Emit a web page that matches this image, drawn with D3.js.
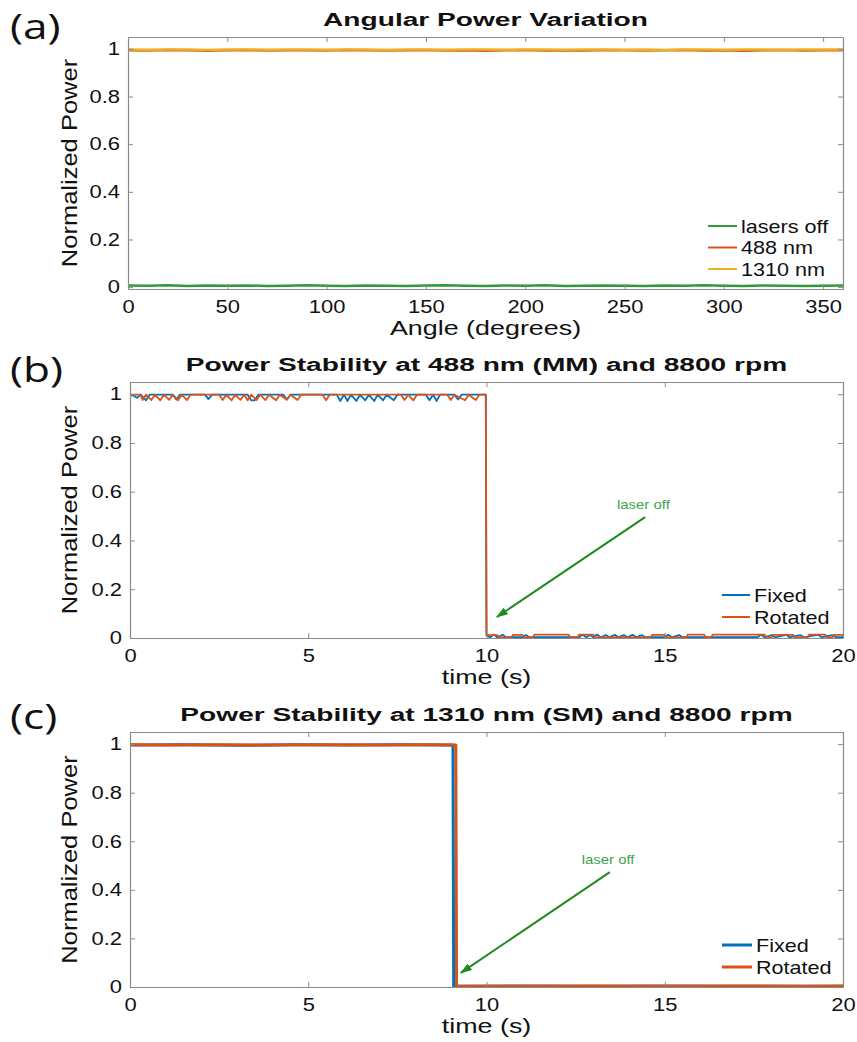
<!DOCTYPE html>
<html>
<head>
<meta charset="utf-8">
<script src="https://cdn.jsdelivr.net/npm/d3@7"></script>
<style>
  html, body { margin: 0; padding: 0; background: #fff; }
  svg { display: block; }
</style>
</head>
<body>
<div id="chart"></div>
<script>
// ---- data ----
// (a) angular sweep, one sample every 10 degrees
const anglesA = d3.range(0, 361, 10);
const lasersOff = [0.007,0.006,0.008,0.005,0.007,0.006,0.007,0.005,0.006,0.008,0.006,0.005,0.007,0.006,0.005,0.007,0.008,0.006,0.005,0.007,0.006,0.008,0.005,0.006,0.007,0.006,0.005,0.007,0.006,0.008,0.006,0.005,0.007,0.006,0.005,0.006,0.007];
const power488 = [0.994,0.993,0.995,0.994,0.992,0.994,0.995,0.993,0.994,0.994,0.993,0.995,0.994,0.993,0.994,0.995,0.993,0.994,0.992,0.994,0.995,0.993,0.994,0.993,0.995,0.994,0.993,0.994,0.995,0.993,0.994,0.992,0.994,0.995,0.993,0.994,0.994];
const power1310 = [0.997,0.996,0.998,0.997,0.995,0.997,0.998,0.996,0.997,0.997,0.996,0.998,0.997,0.995,0.997,0.998,0.996,0.997,0.997,0.996,0.998,0.997,0.996,0.997,0.998,0.996,0.997,0.995,0.997,0.998,0.996,0.997,0.997,0.996,0.998,0.997,0.997];

// (b) 488 nm, [time s, normalized power]
const fixed488 = [[0,0.99],[0.05,0.998],[0.2,0.985],[0.3,0.998],[0.45,0.975],[0.55,0.998],[1.2,0.998],[1.3,0.978],[1.4,0.998],[2.1,0.998],[2.2,0.98],[2.3,0.998],[3.3,0.998],[3.4,0.975],[3.5,0.975],[3.6,0.998],[4.3,0.998],[4.4,0.978],[4.5,0.998],[5.8,0.998],[5.9,0.972],[6.0,0.998],[6.1,0.972],[6.2,0.998],[6.35,0.972],[6.45,0.998],[6.6,0.975],[6.7,0.998],[6.85,0.972],[6.95,0.998],[7.1,0.975],[7.2,0.998],[7.4,0.975],[7.5,0.998],[8.3,0.998],[8.4,0.975],[8.5,0.998],[8.6,0.972],[8.7,0.998],[9.1,0.998],[9.2,0.978],[9.3,0.998],[9.98,0.998],
  [10.0,0.01],[10.1,0.003],[10.2,0.014],[10.3,0.003],[10.45,0.013],[10.55,0.003],[11.0,0.003],[11.1,0.012],[11.2,0.003],[12.6,0.003],[12.7,0.013],[12.8,0.003],[12.9,0.012],[13.0,0.003],[13.1,0.014],[13.2,0.003],[13.35,0.012],[13.45,0.003],[13.6,0.013],[13.7,0.003],[13.85,0.012],[13.95,0.003],[14.1,0.013],[14.2,0.003],[14.35,0.012],[14.45,0.003],[15.0,0.003],[15.1,0.013],[15.2,0.003],[15.4,0.012],[15.5,0.003],[17.6,0.003],[17.7,0.013],[17.8,0.003],[18.0,0.012],[18.1,0.003],[18.4,0.013],[18.5,0.003],[18.8,0.012],[18.9,0.003],[19.3,0.013],[19.4,0.003],[19.7,0.012],[19.8,0.003],[20,0.003]];
const rotated488 = [[0,0.998],[0.3,0.998],[0.35,0.976],[0.45,0.998],[0.6,0.976],[0.7,0.998],[0.85,0.975],[0.95,0.998],[1.1,0.977],[1.2,0.998],[1.35,0.975],[1.45,0.998],[1.6,0.976],[1.7,0.998],[2.5,0.998],[2.6,0.976],[2.7,0.998],[2.85,0.975],[2.95,0.998],[3.1,0.977],[3.2,0.998],[3.3,0.975],[3.4,0.998],[3.55,0.976],[3.65,0.998],[3.8,0.976],[3.9,0.998],[4.1,0.975],[4.2,0.998],[4.4,0.977],[4.5,0.998],[4.7,0.976],[4.8,0.998],[5.4,0.998],[5.5,0.975],[5.6,0.998],[7.6,0.998],[7.7,0.976],[7.8,0.998],[7.95,0.975],[8.05,0.998],[8.9,0.998],[9.0,0.976],[9.1,0.998],[9.4,0.975],[9.5,0.998],[9.7,0.976],[9.8,0.998],[9.98,0.998],
  [10.0,0.012],[10.3,0.012],[10.35,0.002],[10.7,0.002],[10.75,0.013],[11.0,0.013],[11.05,0.002],[11.3,0.002],[11.35,0.014],[12.3,0.014],[12.35,0.002],[12.55,0.002],[12.6,0.014],[13.0,0.014],[13.05,0.002],[14.6,0.002],[14.65,0.013],[15.0,0.013],[15.05,0.002],[15.6,0.002],[15.65,0.014],[16.1,0.014],[16.15,0.002],[16.3,0.002],[16.35,0.014],[17.8,0.014],[17.85,0.002],[18.0,0.002],[18.05,0.013],[18.6,0.013],[18.65,0.002],[19.0,0.002],[19.05,0.014],[19.5,0.014],[19.55,0.002],[19.7,0.002],[19.75,0.013],[20,0.013]];

// (c) 1310 nm
const fixed1310 = [[0,0.996],[1.5,0.997],[3,0.995],[4.5,0.997],[6,0.996],[7.5,0.997],[9.06,0.996],[9.08,0.003],[11,0.004],[13,0.003],[15,0.004],[17,0.003],[20,0.003]];
const rotated1310 = [[0,0.997],[1,0.996],[2.5,0.998],[4,0.996],[5.5,0.997],[7,0.996],[8.5,0.997],[9.14,0.996],[9.16,0.004],[11,0.003],[13,0.004],[15,0.003],[17,0.004],[19,0.003],[20,0.004]];

const angleTicks = [0,50,100,150,200,250,300,350];
const timeTicks = [0,5,10,15,20];
const powerTicks = [0,0.2,0.4,0.6,0.8,1];

const C = { blue: '#0072BD', orange: '#D95319', yellow: '#EDB120', green: '#2f9a3a', arrow: '#1f8a1f', note: '#3ea447' };

const W = 857, H = 1042;
const FONT = '"Liberation Sans", Arial, sans-serif';
const SX = 1.22; // the figure is stretched horizontally

const svg = d3.select('#chart').append('svg').attr('width', W).attr('height', H);
const defs = svg.append('defs');
defs.append('marker')
  .attr('id', 'arrowHead')
  .attr('viewBox', '0 0 12 8')
  .attr('refX', 11).attr('refY', 4)
  .attr('markerWidth', 12).attr('markerHeight', 8)
  .attr('markerUnits', 'userSpaceOnUse')
  .attr('orient', 'auto')
  .append('path').attr('d', 'M0,0 L12,4 L0,8 Z').attr('fill', C.arrow);

function addText(g, x, y, str, size, opts = {}) {
  const sx = opts.sx || SX;
  const rot = opts.rotate ? ` rotate(${opts.rotate})` : '';
  return g.append('text')
    .attr('transform', `translate(${x},${y})${rot} scale(${sx},1)`)
    .attr('font-family', opts.family || FONT)
    .attr('font-size', size)
    .attr('font-weight', opts.bold ? 'bold' : 'normal')
    .attr('text-anchor', opts.anchor || 'start')
    .attr('fill', opts.fill || '#111')
    .text(str);
}

function drawPanel(p, idx) {
  const x = d3.scaleLinear().domain(p.xDomain).range([p.left, p.right]);
  const y = d3.scaleLinear().domain(p.yDomain).range([p.bottom, p.top]);
  const g = svg.append('g');
  const cx = (p.left + p.right) / 2;

  // clip
  const clipId = 'clip' + idx;
  defs.append('clipPath').attr('id', clipId)
    .append('rect').attr('x', p.left).attr('y', p.top)
    .attr('width', p.right - p.left).attr('height', p.bottom - p.top);

  // series
  const line = d3.line().x(d => x(d[0])).y(d => y(d[1]));
  const plot = g.append('g').attr('clip-path', `url(#${clipId})`);
  p.series.forEach(s => {
    plot.append('path').datum(s.data)
      .attr('fill', 'none').attr('stroke', s.color)
      .attr('stroke-width', p.lineWidth)
      .attr('stroke-linejoin', 'round')
      .attr('d', line);
  });

  // axes (MATLAB-style box with inward ticks)
  const axisColor = '#8a8a8a';
  const bottomAx = g.append('g').attr('transform', `translate(0,${p.bottom})`)
    .call(d3.axisBottom(x).tickValues(p.xTicks).tickSizeInner(-5).tickSizeOuter(0).tickPadding(11).tickFormat(d3.format('~g')));
  const leftAx = g.append('g').attr('transform', `translate(${p.left},0)`)
    .call(d3.axisLeft(y).tickValues(powerTicks).tickSizeInner(-5).tickSizeOuter(0).tickPadding(8).tickFormat(d3.format('~g')));
  g.append('g').attr('transform', `translate(0,${p.top})`)
    .call(d3.axisTop(x).tickValues(p.xTicks).tickSizeInner(-5).tickSizeOuter(0).tickFormat(''));
  g.append('g').attr('transform', `translate(${p.right},0)`)
    .call(d3.axisRight(y).tickValues(powerTicks).tickSizeInner(-5).tickSizeOuter(0).tickFormat(''));
  g.selectAll('.domain, .tick line').attr('stroke', axisColor);
  g.selectAll('.domain').attr('stroke-width', 1.2);
  g.selectAll('.tick text')
    .attr('font-family', FONT).attr('font-size', 18).attr('fill', '#111');
  bottomAx.selectAll('.tick text').attr('transform', `scale(${SX},1)`);
  leftAx.selectAll('.tick text').attr('transform', `scale(${SX},1)`).attr('x', -8 / SX);

  // labels
  addText(svg, cx, p.top - 11, p.title, 19, { bold: true, anchor: 'middle', sx: 1.48 });
  addText(svg, cx, p.bottom + 46, p.xLabel, 21, { anchor: 'middle', sx: 1.28 });
  addText(svg, 77, (p.top + p.bottom) / 2, 'Normalized Power', 22, { anchor: 'middle', rotate: -90, sx: 1.16 });
  addText(svg, 10, p.tagY, p.tag, 34, { family: '"Open Sans", sans-serif', sx: 1.3 });

  // legend
  const lg = p.legend;
  p.series.forEach((s, i) => {
    const ly = lg.y + i * lg.dy;
    svg.append('line').attr('x1', lg.x).attr('x2', lg.x + lg.len)
      .attr('y1', ly).attr('y2', ly)
      .attr('stroke', s.color).attr('stroke-width', lg.width);
    addText(svg, lg.x + lg.len + 4, ly + 6.5, s.name, 18, { sx: 1.2 });
  });

  // annotation
  if (p.note) {
    const n = p.note;
    addText(svg, x(n.at[0]), y(n.at[1]), n.text, 13, { anchor: 'middle', fill: C.note, sx: 1.15 });
    svg.append('line')
      .attr('x1', x(n.from[0])).attr('y1', y(n.from[1]))
      .attr('x2', x(n.to[0])).attr('y2', y(n.to[1]))
      .attr('stroke', C.arrow).attr('stroke-width', 2)
      .attr('marker-end', 'url(#arrowHead)');
  }
}

const panels = [
  {
    tag: '(a)', tagY: 39,
    title: 'Angular Power Variation', xLabel: 'Angle (degrees)',
    left: 128, right: 843, top: 37, bottom: 289,
    xDomain: [0, 360], yDomain: [-0.008, 1.05], xTicks: angleTicks, lineWidth: 2.5,
    series: [
      { name: 'lasers off', color: C.green, data: anglesA.map((a, i) => [a, lasersOff[i]]) },
      { name: '488 nm', color: C.orange, data: anglesA.map((a, i) => [a, power488[i]]) },
      { name: '1310 nm', color: C.yellow, data: anglesA.map((a, i) => [a, power1310[i]]) }
    ],
    legend: { x: 708, y: 226, dy: 21.5, len: 29, width: 2 }
  },
  {
    tag: '(b)', tagY: 382,
    title: 'Power Stability at 488 nm (MM) and 8800 rpm', xLabel: 'time (s)',
    left: 130, right: 843, top: 382, bottom: 638,
    xDomain: [0, 20], yDomain: [0, 1.05], xTicks: timeTicks, lineWidth: 1.8,
    series: [
      { name: 'Fixed', color: C.blue, data: fixed488 },
      { name: 'Rotated', color: C.orange, data: rotated488 }
    ],
    legend: { x: 722, y: 595, dy: 22, len: 28, width: 2 },
    note: { text: 'laser off', at: [14.4, 0.53], from: [14.45, 0.496], to: [10.29, 0.086] }
  },
  {
    tag: '(c)', tagY: 729,
    title: 'Power Stability at 1310 nm (SM) and 8800 rpm', xLabel: 'time (s)',
    left: 130, right: 843, top: 732, bottom: 987,
    xDomain: [0, 20], yDomain: [0, 1.05], xTicks: timeTicks, lineWidth: 3,
    series: [
      { name: 'Fixed', color: C.blue, data: fixed1310 },
      { name: 'Rotated', color: C.orange, data: rotated1310 }
    ],
    legend: { x: 722, y: 945, dy: 22, len: 30, width: 3 },
    note: { text: 'laser off', at: [13.41, 0.505], from: [13.46, 0.473], to: [9.28, 0.058] }
  }
];

panels.forEach(drawPanel);
</script>
</body>
</html>
